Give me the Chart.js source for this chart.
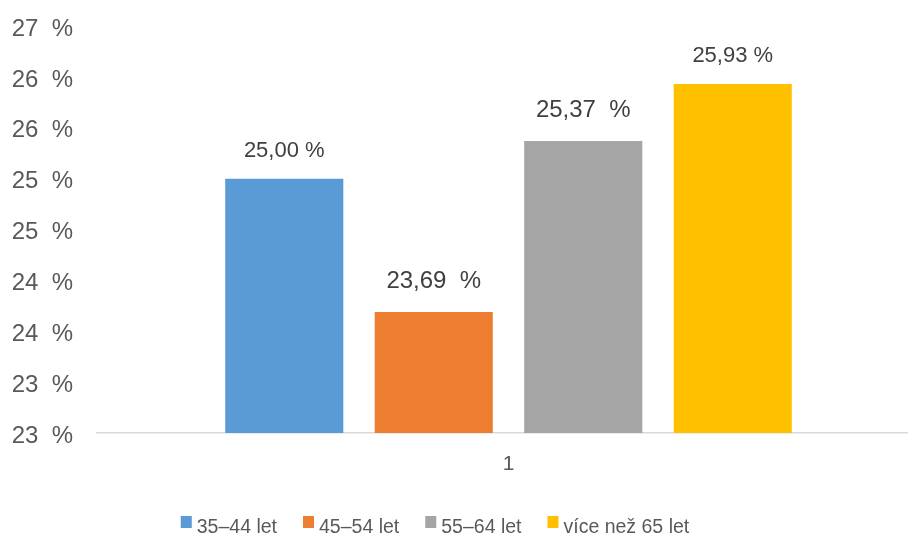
<!DOCTYPE html>
<html><head><meta charset="utf-8">
<script src="https://cdn.jsdelivr.net/npm/chart.js@4.4.1/dist/chart.umd.min.js"></script>
<style>
html,body{margin:0;padding:0;background:#fff;overflow:hidden;width:908px;height:536px}
#wrap{width:920px;height:536px}
</style>
</head><body><div id="wrap"><canvas id="c" width="920" height="536"></canvas></div>
<script>
// ---- data ----
const categories = ['1'];
const seriesNames = ['35–44 let', '45–54 let', '55–64 let', 'více než 65 let'];
const seriesValues = [25.00, 23.69, 25.37, 25.93];
const valueLabels = ['25,00 %', '23,69  %', '25,37  %', '25,93 %'];
const yTickValues = [22.5, 23, 23.5, 24, 24.5, 25, 25.5, 26, 26.5];
const yTickLabels = ['23  %', '23  %', '24  %', '24  %', '25  %', '25  %', '26  %', '26  %', '27  %'];

// ---- styles ----
const seriesColors = ['#5B9BD5', '#ED7D31', '#A5A5A5', '#FFC000'];
const labelFontSizes = [22, 24, 24, 22];
const FONT = '"Liberation Sans", Arial, sans-serif';

const datasets = seriesNames.map((name, i) => ({
  label: name,
  data: [seriesValues[i]],
  backgroundColor: seriesColors[i],
  borderWidth: 0,
  categoryPercentage: 0.7266,
  barPercentage: 0.79
}));

const valueLabelPlugin = {
  id: 'valueLabels',
  afterDatasetsDraw(chart) {
    const ctx = chart.ctx;
    ctx.save();
    ctx.fillStyle = '#404040';
    ctx.textAlign = 'center';
    ctx.textBaseline = 'alphabetic';
    chart.data.datasets.forEach((ds, i) => {
      const el = chart.getDatasetMeta(i).data[0];
      const fs = labelFontSizes[i];
      ctx.font = fs + 'px ' + FONT;
      ctx.fillText(valueLabels[i], el.x, el.y - fs);
    });
    ctx.restore();
  }
};

const legendPlugin = {
  id: 'customLegend',
  afterDraw(chart) {
    const ctx = chart.ctx;
    ctx.save();
    ctx.font = '19.5px ' + FONT;
    const boxW = 11, boxH = 12, textGap = 5, itemGap = 26;
    const widths = chart.data.datasets.map(ds => ctx.measureText(ds.label).width);
    const total = widths.reduce((a, w) => a + boxW + textGap + w, 0) + itemGap * (widths.length - 1);
    let x = 435 - total / 2;
    const boxTop = 516, baseline = 533;
    chart.data.datasets.forEach((ds, i) => {
      ctx.fillStyle = ds.backgroundColor;
      ctx.fillRect(x, boxTop, boxW, boxH);
      x += boxW + textGap;
      ctx.fillStyle = '#595959';
      ctx.textBaseline = 'alphabetic';
      ctx.textAlign = 'left';
      ctx.fillText(ds.label, x, baseline);
      x += widths[i] + itemGap;
    });
    ctx.restore();
  }
};

new Chart(document.getElementById('c'), {
  type: 'bar',
  data: { labels: categories, datasets },
  options: {
    responsive: false,
    animation: false,
    layout: { padding: { left: 12, top: 26, right: 0, bottom: 58 } },
    plugins: {
      legend: { display: false },
      tooltip: { enabled: false }
    },
    scales: {
      x: {
        grid: { display: false, drawTicks: false },
        border: { display: true, color: '#D9D9D9', width: 1.5 },
        ticks: { color: '#595959', font: { family: FONT, size: 21 }, padding: 19 },
        afterFit(scale) { scale.height = 45; scale.paddingLeft = 0; scale.paddingRight = 0; }
      },
      y: {
        min: 22.5,
        max: 26.5,
        afterBuildTicks(scale) { scale.ticks = yTickValues.map(v => ({ value: v })); },
        grid: { display: false, drawTicks: false },
        border: { display: false },
        ticks: {
          color: '#595959',
          font: { family: FONT, size: 24 },
          padding: 24,
          labelOffset: 3,
          callback(v) { return yTickLabels[yTickValues.indexOf(v)]; }
        },
        afterFit(scale) { scale.width = 85; scale.paddingTop = 0; scale.paddingBottom = 0; }
      }
    }
  },
  plugins: [valueLabelPlugin, legendPlugin]
});
</script>
</body></html>
